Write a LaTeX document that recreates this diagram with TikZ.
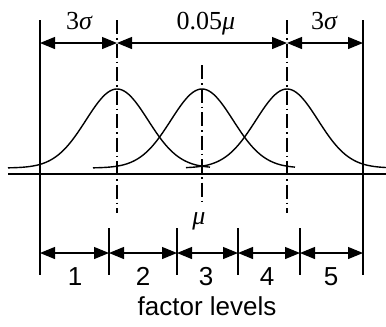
\documentclass[tikz,border=0pt]{standalone}
\usepackage{fontspec}
\setmainfont{Liberation Serif}
\setsansfont{Liberation Sans}
\usetikzlibrary{arrows.meta}

\tikzset{
  dimline/.style={<->,line width=1.2pt},
  centreline/.style={dash pattern=on 14pt off 4pt on 1.5pt off 4pt},
  serlabel/.style={anchor=base,inner sep=0pt,font=\fontsize{26}{30}\selectfont},
  sanslabel/.style={anchor=base,inner sep=0pt,font=\sffamily\fontsize{26}{30}\selectfont},
}

\begin{document}
\begin{tikzpicture}[x=1pt,y=-1pt,>={Triangle[length=15pt,width=12pt]},line width=1.4pt]
  \useasboundingbox (0,0) rectangle (386,327);
  % outer limits
  \coordinate (limL) at (40,20);
  \coordinate (limLb) at (40,275);
  \coordinate (limR) at (363,20);
  \coordinate (limRb) at (363,275);
  \draw (limL) -- (limLb);
  \draw (limR) -- (limRb);
  % centre lines of the three curves
  \coordinate (cA) at (117,20);  \coordinate (cAb) at (117,213);
  \coordinate (cB) at (202,65);  \coordinate (cBb) at (202,202);
  \coordinate (cC) at (287,20);  \coordinate (cCb) at (287,213);
  \draw [centreline] (cA) -- (cAb);
  \draw [centreline] (cB) -- (cBb);
  \draw [centreline] (cC) -- (cCb);
  % axis
  \coordinate (axL) at (8,174);
  \coordinate (axR) at (386,174);
  \draw (axL) -- (axR);
  % the three distributions
  \foreach \m/\a/\b in {117/-109/93,202/-109/93,287/-101/99}
    \draw plot [domain=\a:\b,samples=90,smooth] ({\m+\x},{168-79*exp(-(\x)*(\x)/1922)});
  % top dimensions
  \coordinate (d1) at (40,43);
  \coordinate (d2) at (117,43);
  \coordinate (d3) at (287,43);
  \coordinate (d4) at (363,43);
  \draw [dimline] (d1) -- (d2);
  \draw [dimline] (d2) -- (d3);
  \draw [dimline] (d3) -- (d4);
  \node [serlabel] (sigL) at (79,29) {3{\itshape σ}};
  \node [serlabel] (span) at (206,29) {0.05{\itshape μ}};
  \node [serlabel] (sigR) at (324,29) {3{\itshape σ}};
  \node [serlabel] (mean) at (199,224) {\itshape μ};
  % factor levels
  \foreach \x [count=\i] in {40,109,177,238,300,363} {
    \coordinate (t\i) at (\x,253);
    \coordinate (u\i) at (\x,228);
    \coordinate (w\i) at (\x,275);
  }
  \foreach \i in {2,...,5}
    \draw (u\i) -- (w\i);
  \foreach \a/\b in {1/2,2/3,3/4,4/5,5/6}
    \draw [dimline] (t\a) -- (t\b);
  \foreach \x/\n in {75/1,143/2,206/3,267/4,331/5}
    \node [sanslabel] (lev\n) at (\x,285) {\n};
  \node [sanslabel] (levels) at (207,315) {factor levels};
\end{tikzpicture}
\end{document}
